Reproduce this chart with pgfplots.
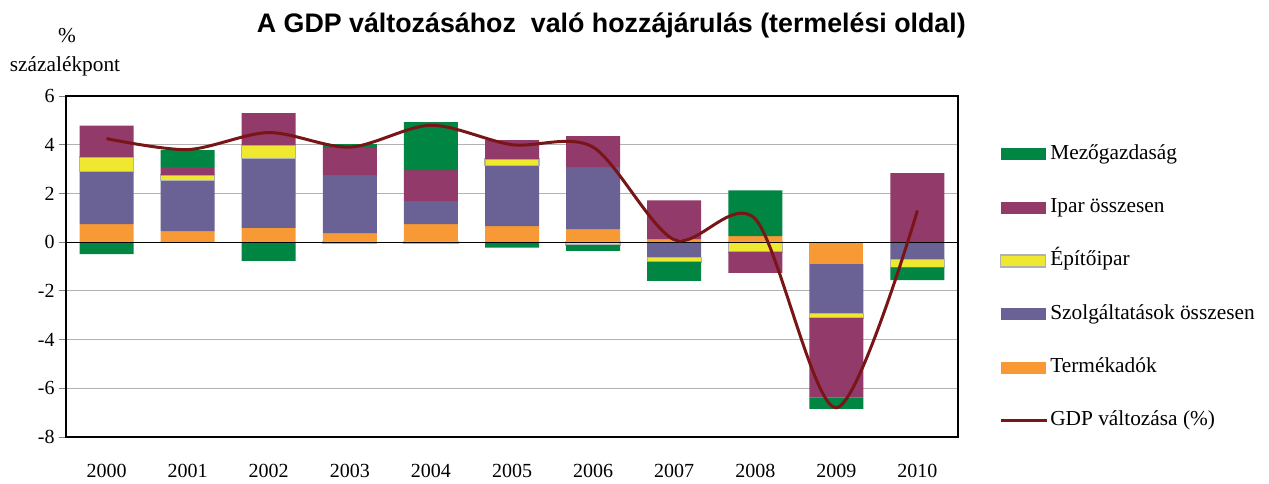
\documentclass[border=0pt]{standalone}
\usepackage{pgfplots}
\pgfplotsset{compat=1.18}
\usepackage{pgfplotstable}
\usepackage{fontspec}
\setmainfont{Liberation Serif}
\newfontfamily\titlefont{Liberation Sans}
\definecolor{cM}{HTML}{008542}
\definecolor{cI}{HTML}{923A69}
\definecolor{cE}{HTML}{EEE830}
\definecolor{cS}{HTML}{6A6194}
\definecolor{cT}{HTML}{F79A35}
\definecolor{cG}{HTML}{7A1517}
\makeatletter
\newcommand\resetstack{\pgfplots@stacked@isfirstplottrue}
\makeatother
\pgfplotsset{
  boxlegend/.style={legend image code/.code={\fill[##1, draw=none] (0pt,-4.4pt) rectangle (33.75pt,4.4pt);}},
  eboxlegend/.style={legend image code/.code={\filldraw[##1] (0pt,-4.4pt) rectangle (33.75pt,4.4pt);}},
  linelegend/.style={legend image code/.code={\draw[##1] (0pt,0pt) -- (35pt,0pt);}},
}
\pgfplotstableread{
x z Tp Sp Ep Ip Mp Tn Sn En In Mn gdp
0 0 0.74 2.15 0.60 1.29 0 0 0 0 0 -0.49 4.25
1 0 0.45 2.07 0.23 0.33 0.70 0 0 0 0 0 3.8
2 0 0.59 2.85 0.54 1.32 0 0 0 0 0 -0.77 4.5
3 0 0.37 2.38 0 1.12 0.15 0 0 -0.05 0 0 3.9
4 0 0.74 0.94 0 1.28 1.97 0 0 -0.05 0 0 4.8
5 0 0.66 2.50 0.25 0.78 0 0 0 0 0 -0.23 4.0
6 0 0.53 2.55 0 1.27 0 0 0 -0.12 0 -0.24 3.9
7 0 0.12 0 0 1.60 0 0 -0.64 -0.17 0 -0.78 0.1
8 0 0.25 0 0 0 1.88 0 0 -0.40 -0.86 0 0.95
9 0 0 0 0 0 0 -0.90 -2.03 -0.19 -3.25 -0.48 -6.8
10 0 0 0 0 2.83 0 0 -0.70 -0.34 0 -0.52 1.3
}\data

\begin{document}
\begin{tikzpicture}
\useasboundingbox (-49.5pt,-34.5pt) rectangle (902.25pt,327.75pt);
\begin{axis}[
  at={(0,0)}, anchor=south west,
  scale only axis, width=669pt, height=255.75pt,
  ybar stacked, bar width=40.5pt, reverse stacked plots=false,
  xmin=-0.5, xmax=10.5, ymin=-8, ymax=6,
  xtick={0,1,2,3,4,5,6,7,8,9,10},
  xticklabels={2000,2001,2002,2003,2004,2005,2006,2007,2008,2009,2010},
  ytick={-8,-6,-4,-2,0,2,4,6},
  ymajorgrids, grid style={gray!60, line width=0.75pt},
  axis line style={black, line width=2pt},
  tick align=outside, ytick pos=left, major tick length=5pt,
  ytick style={gray, line width=0.75pt}, xtick style={draw=none},
  tick label style={font=\fontsize{15}{18}\selectfont},
  /pgf/number format/assume math mode=true,
  xticklabel style={yshift=-11.5pt},
  legend style={draw=none, fill=none, at={(1.046,0.862)}, anchor=north west,
    inner sep=0pt, row sep=23.5pt, font=\fontsize{16}{19}\selectfont,
    nodes={inner sep=1pt, text height=11pt, text depth=3.5pt}},
  legend cell align=left,
]
\addlegendimage{boxlegend, fill=cM}
\addlegendentry{Mezőgazdaság}
\addlegendimage{boxlegend, fill=cI}
\addlegendentry{Ipar összesen}
\addlegendimage{eboxlegend, fill=cE, draw=gray!60, line width=1pt}
\addlegendentry{Építőipar}
\addlegendimage{boxlegend, fill=cS}
\addlegendentry{Szolgáltatások összesen}
\addlegendimage{boxlegend, fill=cT}
\addlegendentry{Termékadók}
\addlegendimage{linelegend, cG, line width=2.25pt}
\addlegendentry{GDP változása (\%)}

% positive contributions
\addplot[fill=cT, draw=none, forget plot] table[x=x,y=Tp]{\data};
\addplot[fill=cS, draw=none, forget plot] table[x=x,y=Sp]{\data};
\addplot[fill=cE, draw=gray!60, line width=1pt, forget plot] table[x=x,y=Ep]{\data};
\addplot[fill=cI, draw=none, forget plot] table[x=x,y=Ip]{\data};
\addplot[fill=cM, draw=none, forget plot] table[x=x,y=Mp]{\data};
% negative contributions
\resetstack
\addplot[forget plot, draw=none, fill=none] table[x=x,y=z]{\data};
\addplot[fill=cT, draw=none, forget plot] table[x=x,y=Tn]{\data};
\addplot[fill=cS, draw=none, forget plot] table[x=x,y=Sn]{\data};
\addplot[fill=cE, draw=gray!60, line width=1pt, forget plot] table[x=x,y=En]{\data};
\addplot[fill=cI, draw=none, forget plot] table[x=x,y=In]{\data};
\addplot[fill=cM, draw=none, forget plot] table[x=x,y=Mn]{\data};
% zero line and GDP
\addplot[forget plot, stack plots=false, sharp plot, black, line width=0.9pt] coordinates {(-0.5,0) (10.5,0)};
\addplot[forget plot, stack plots=false, smooth, cG, line width=2.25pt] table[x=x,y=gdp]{\data};
\end{axis}
\node[font=\titlefont\bfseries\fontsize{20.1}{24}\selectfont, anchor=base] at (409pt,303pt) {A GDP változásához\ \ való hozzájárulás (termelési oldal)};
\node[font=\fontsize{16}{19}\selectfont, anchor=base] at (0.75pt,295.5pt) {\%};
\node[font=\fontsize{16}{19}\selectfont, anchor=base] at (-0.75pt,273.75pt) {százalékpont};
\end{tikzpicture}
\end{document}
